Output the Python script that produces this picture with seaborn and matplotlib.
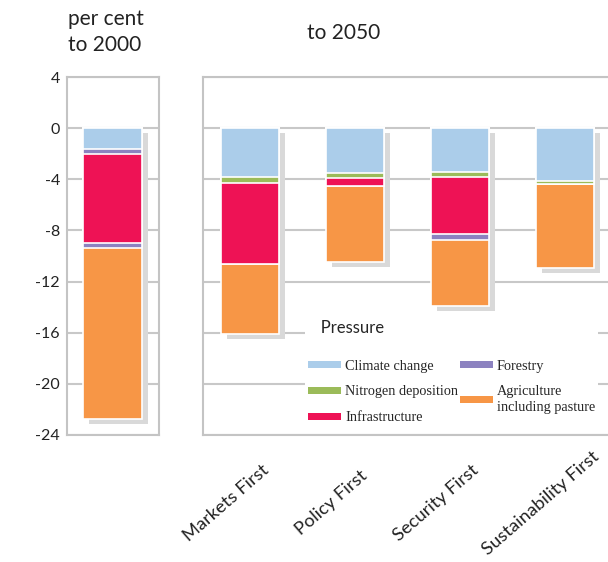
import numpy as np
import matplotlib
matplotlib.use("Agg")
import matplotlib.pyplot as plt
import matplotlib.patheffects as pe
import matplotlib.transforms as mtransforms
from matplotlib.patches import Patch
import seaborn as sns

# pressures (top of the stack first)
pressures = ["Climate change", "Nitrogen deposition", "Infrastructure",
             "Forestry", "Agriculture\nincluding pasture"]
pressure_colors = ["#abcdea", "#9bbb59", "#ee1255", "#8c82c0", "#f79646"]

# loss of mean species abundance to 2000 (one bar)
bar2000_label = ["2000"]
bar2000_segments = ["Climate change", "Forestry", "Infrastructure",
                    "Forestry", "Agriculture\nincluding pasture"]
bar2000_values = [-1.6, -0.4, -7.0, -0.4, -13.35]

# additional loss to 2050 per scenario
scenarios = ["Markets First", "Policy First", "Security First", "Sustainability First"]
climate_change = [-3.8, -3.5, -3.4, -4.1]
nitrogen_deposition = [-0.5, -0.4, -0.45, -0.3]
infrastructure = [-6.3, -0.6, -4.4, 0.0]
forestry = [0.0, 0.0, -0.5, 0.0]
agriculture = [-5.5, -6.0, -5.15, -6.5]

yticks = [4, 0, -4, -8, -12, -16, -20, -24]

sns.set_theme(style="white")
plt.rcParams["font.family"] = ["Lato", "DejaVu Sans"]
plt.rcParams["axes.unicode_minus"] = False

color_of = dict(zip(pressures, pressure_colors))
shadow = [pe.SimplePatchShadow(offset=(4.5, -3.6), shadow_rgbFace="#d9d9d9", alpha=1),
          pe.Normal()]

W, H = 608, 562
fig = plt.figure(figsize=(W / 100, H / 100), dpi=100)
ax1 = fig.add_axes([67 / W, 1 - 435 / H, 92 / W, 358 / H])
ax2 = fig.add_axes([203 / W, 1 - 435 / H, 440 / W, 358 / H])


def stacked(ax, cats, layers, colors, width):
    # cumulative totals, drawn deepest first so shallower layers sit on top
    cum = np.cumsum(np.array(layers), axis=0)
    for k in range(len(layers) - 1, -1, -1):
        kw = dict(path_effects=shadow) if k == len(layers) - 1 else {}
        sns.barplot(x=cats, y=cum[k], color=colors[k], saturation=1, width=width,
                    edgecolor="white", linewidth=1.2, ax=ax, zorder=3, **kw)


stacked(ax1, bar2000_label, [[v] for v in bar2000_values],
        [color_of[s] for s in bar2000_segments], 0.6)
stacked(ax2, scenarios,
        [climate_change, nitrogen_deposition, infrastructure, forestry, agriculture],
        pressure_colors, 0.55)

for ax in (ax1, ax2):
    ax.set_ylim(-24, 4)
    ax.set_yticks(yticks)
    ax.yaxis.grid(True, color="#c8c8c8", lw=1.5)
    ax.set_axisbelow(True)
    ax.tick_params(length=0)
    ax.set_xlabel("")
    ax.set_ylabel("")
    for sp in ax.spines.values():
        sp.set_visible(True)
        sp.set_color("#c4c4c4")
        sp.set_linewidth(1.5)

ax1.set_xlim(-0.463, 0.473)
ax1.set_xticks([])
ax1.set_yticklabels([str(t) for t in yticks], fontsize=11.5, color="#222222")
ax1.tick_params(axis="y", pad=5)

ax2.set_xlim(-0.448, 3.743)
ax2.set_yticklabels([])
ax2.set_xticks(range(len(scenarios)))
ax2.set_xticklabels(scenarios, rotation=41, ha="center", va="center",
                    rotation_mode="anchor", fontsize=13.2, color="#222222")
off = mtransforms.ScaledTranslation(-24 / 100, -63 / 100, fig.dpi_scale_trans)
for lab in ax2.get_xticklabels():
    lab.set_transform(lab.get_transform() + off)

fig.text(68 / W, 1 - 32 / H, "per cent\nto 2000", fontsize=15, va="center",
         ha="left", linespacing=1.35, color="#222222")
fig.text(344 / W, 1 - 33 / H, "to 2050", fontsize=15, va="center", ha="center",
         color="#222222")

handles = [Patch(facecolor=c, edgecolor="none", label=l)
           for l, c in zip(pressures, pressure_colors)]
leg = ax2.legend(handles=handles, ncol=2, title="   Pressure", loc="upper left",
                 bbox_to_anchor=(298 / W, 1 - 310 / H), bbox_transform=fig.transFigure,
                 frameon=True, facecolor="white", edgecolor="none", framealpha=1,
                 prop={"family": "Liberation Serif", "size": 10.3},
                 title_fontproperties={"family": "Lato", "size": 12},
                 handlelength=2.3, handleheight=0.42, labelspacing=0.9,
                 columnspacing=0.1, handletextpad=0.3, borderpad=0.2)
leg._legend_box.align = "left"
leg._legend_box.sep = 17
leg.set_zorder(5)

fig.savefig("out.png", dpi=100)
